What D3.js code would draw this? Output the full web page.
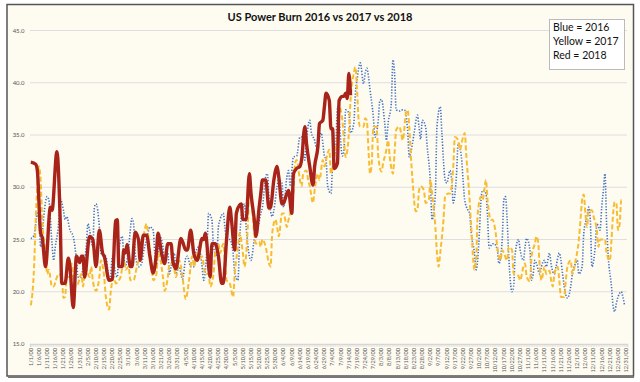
<!DOCTYPE html>
<html><head><meta charset="utf-8">
<script src="https://cdn.jsdelivr.net/npm/d3@7"></script>
<style>body{margin:0;background:#fff;}svg{display:block;}</style>
</head><body>
<svg id="c" width="640" height="382"></svg>
<script>
// ---- data (day of year index, value) ----
const yTicks = [15, 20, 25, 30, 35, 40, 45];
const seriesNames = ["2016", "2017", "2018"];
const legendLines = ["Blue = 2016", "Yellow = 2017", "Red = 2018"];
const title = "US Power Burn 2016 vs 2017 vs 2018";

const blue2016 = [[0,25.1],[2,25.4],[4,27.5],[5,26.9],[6,24.3],[7,25.5],[8,27.3],[10,29.1],[11,28.8],[13,24.6],[14,23.0],[15,24.3],[17,26.5],[18,28.9],[20,27.8],[21,26.9],[22,27.2],[24,25.9],[26,25.3],[28,23.0],[29,21.4],[31,21.4],[32,22.4],[34,24.3],[35,26.5],[36,25.9],[38,24.3],[39,28.1],[40,28.4],[42,26.2],[43,23.7],[45,23.4],[46,23.4],[48,21.1],[49,21.7],[50,23.4],[52,21.7],[53,21.4],[54,24.0],[56,25.3],[57,23.4],[58,22.4],[60,24.3],[62,27.0],[63,26.5],[64,23.7],[66,22.4],[68,22.7],[69,23.7],[71,25.0],[73,26.2],[75,25.9],[76,23.7],[77,22.4],[79,25.3],[81,24.3],[82,23.0],[84,23.7],[85,21.7],[86,22.4],[88,23.7],[89,21.7],[91,22.4],[93,21.2],[95,23.2],[96,23.4],[98,22.4],[100,22.4],[101,23.7],[103,24.3],[105,22.4],[106,21.1],[108,24.3],[109,27.5],[111,26.9],[112,24.3],[114,23.4],[115,26.2],[116,26.9],[118,27.5],[119,26.2],[120,25.0],[122,25.0],[124,23.7],[125,21.8],[127,21.1],[128,25.0],[130,28.1],[131,28.4],[132,26.2],[134,23.4],[135,23.0],[137,25.0],[139,25.9],[141,27.5],[142,28.1],[144,31.0],[145,31.3],[146,29.1],[148,27.2],[149,27.8],[151,30.1],[152,30.7],[154,30.4],[155,28.1],[157,31.0],[158,31.6],[159,30.1],[161,32.9],[163,33.0],[165,34.8],[166,34.8],[168,32.6],[169,34.5],[171,36.4],[172,35.2],[174,34.5],[175,33.9],[177,34.8],[178,35.2],[180,33.0],[181,32.6],[182,30.1],[184,29.4],[185,32.0],[187,33.9],[188,37.7],[189,36.4],[191,33.0],[192,33.6],[193,37.4],[195,37.1],[196,35.2],[198,36.1],[199,39.0],[200,40.3],[202,41.9],[204,39.9],[205,40.9],[206,41.4],[207,40.6],[208,39.3],[210,36.7],[211,34.8],[213,36.4],[214,38.3],[215,38.4],[217,36.1],[218,34.5],[219,36.1],[221,38.0],[222,42.2],[223,40.9],[224,37.4],[226,37.3],[227,37.4],[229,37.4],[231,35.5],[232,32.9],[234,34.2],[235,35.2],[237,36.9],[238,35.8],[239,34.6],[240,36.4],[242,35.8],[243,33.9],[245,30.4],[246,26.9],[248,29.4],[249,35.8],[251,37.7],[252,35.2],[254,30.7],[255,30.4],[257,31.6],[258,30.7],[259,28.5],[261,31.3],[262,34.2],[264,32.9],[265,30.7],[266,28.8],[268,27.8],[269,27.5],[270,25.6],[272,23.7],[273,22.1],[275,25.6],[276,28.8],[277,29.7],[279,29.4],[280,27.2],[281,24.2],[283,24.6],[284,24.6],[286,24.0],[287,22.7],[289,25.0],[290,28.8],[291,29.1],[292,26.9],[293,23.4],[295,20.0],[296,20.5],[297,23.7],[299,25.0],[300,24.0],[302,23.0],[303,24.3],[304,25.1],[306,24.0],[307,21.1],[308,21.7],[309,23.0],[310,22.7],[312,21.7],[313,22.4],[315,23.0],[316,22.4],[318,23.7],[319,22.6],[321,21.7],[322,22.4],[324,23.7],[325,23.0],[326,21.7],[328,19.7],[329,19.4],[331,20.5],[332,21.7],[334,22.7],[335,23.0],[336,21.7],[338,22.4],[339,25.6],[341,27.2],[342,28.1],[343,26.9],[344,22.4],[346,24.3],[347,26.5],[349,25.9],[350,28.1],[351,29.7],[352,31.3],[353,26.5],[354,23.4],[356,20.5],[357,18.6],[358,18.1],[359,18.9],[360,19.5],[362,20.0],[363,19.5],[364,18.7]];

const yellow2017 = [[0,18.7],[2,22.4],[3,26.9],[4,30.1],[5,32.0],[6,30.7],[7,26.9],[9,23.7],[10,21.7],[11,22.1],[13,20.5],[14,20.5],[16,21.4],[17,21.7],[19,21.4],[20,19.4],[21,19.5],[22,21.4],[24,21.4],[25,22.7],[26,21.4],[28,20.5],[29,20.8],[31,21.7],[32,20.5],[33,21.7],[34,22.1],[36,21.4],[37,22.4],[38,21.1],[40,20.1],[42,21.4],[43,23.0],[45,21.4],[46,19.5],[48,18.3],[49,20.0],[51,21.4],[52,20.8],[54,21.1],[55,21.4],[57,23.0],[58,22.1],[60,22.4],[61,21.1],[63,21.1],[65,22.4],[66,23.0],[67,24.3],[69,25.3],[71,26.5],[72,25.3],[74,22.7],[75,21.1],[77,21.7],[78,23.7],[79,23.4],[81,21.4],[82,20.1],[84,21.4],[85,22.7],[86,22.7],[88,22.1],[89,21.4],[91,23.0],[92,22.5],[93,21.4],[95,19.3],[97,21.1],[99,23.4],[100,22.4],[102,23.7],[103,23.0],[105,23.4],[107,21.7],[109,21.7],[110,20.5],[112,21.7],[113,23.7],[115,24.6],[116,23.7],[118,24.6],[119,23.0],[120,21.1],[122,20.8],[124,19.5],[125,21.7],[127,24.3],[128,25.6],[130,23.7],[131,22.4],[133,26.2],[134,30.1],[135,29.1],[137,25.6],[138,24.6],[140,24.8],[141,24.3],[142,25.0],[144,24.3],[146,22.7],[147,22.4],[148,25.6],[150,26.9],[151,26.2],[152,25.3],[154,27.5],[155,27.5],[157,26.2],[158,26.9],[159,27.5],[161,29.4],[162,32.3],[163,32.6],[165,30.7],[166,30.1],[167,31.3],[169,31.6],[170,30.7],[171,30.1],[173,28.5],[174,29.7],[176,31.3],[177,30.7],[179,32.6],[180,32.0],[182,33.3],[183,33.6],[184,31.3],[186,32.9],[188,34.8],[189,37.7],[191,36.4],[192,34.5],[193,32.9],[195,35.2],[196,38.3],[198,40.9],[199,41.5],[200,39.3],[201,36.4],[202,35.8],[204,35.8],[205,36.6],[206,36.4],[207,33.6],[208,31.3],[209,32.3],[210,35.8],[212,35.8],[213,33.0],[215,31.5],[216,32.3],[218,33.6],[219,34.5],[220,33.0],[222,31.3],[223,33.3],[224,35.5],[226,35.8],[227,35.2],[228,34.5],[230,37.1],[231,37.4],[232,35.8],[233,33.0],[234,30.7],[236,27.7],[237,27.8],[238,29.7],[239,30.1],[241,29.7],[242,28.5],[244,28.8],[245,30.7],[246,29.4],[248,26.2],[249,23.7],[250,22.4],[251,23.7],[253,26.9],[254,29.1],[256,29.4],[257,29.4],[259,32.0],[260,34.8],[262,34.5],[263,33.6],[265,34.8],[266,35.2],[267,33.0],[269,28.8],[270,26.2],[272,22.1],[273,23.0],[274,27.5],[276,29.1],[277,28.8],[278,29.7],[279,30.7],[280,28.8],[282,26.9],[283,26.9],[285,25.6],[286,24.3],[288,23.0],[289,24.0],[290,23.7],[292,23.0],[293,24.3],[295,24.0],[296,21.7],[298,21.6],[299,21.5],[300,21.1],[302,22.4],[303,22.7],[304,21.4],[306,21.0],[307,23.4],[309,24.6],[310,25.3],[311,24.8],[312,22.4],[313,21.1],[315,22.4],[316,21.7],[318,22.0],[319,21.1],[320,20.5],[321,21.7],[323,22.4],[324,21.1],[325,19.5],[327,19.5],[328,21.1],[329,22.4],[331,23.0],[332,21.7],[334,23.0],[336,25.0],[337,26.9],[338,28.8],[339,29.3],[340,27.5],[341,26.2],[342,27.8],[344,27.8],[345,27.2],[347,25.9],[348,24.3],[349,25.0],[351,25.0],[352,25.0],[353,23.7],[355,23.0],[356,25.0],[357,27.5],[358,28.6],[359,28.4],[360,25.9],[361,26.5],[362,28.8],[363,28.8]];

const red2018 = [[0,32.4],[3,32.2],[4,31.6],[6,25.6],[7,25.2],[9,22.4],[12,28.1],[13,27.8],[16,33.4],[18,26.9],[19,20.8],[21,20.8],[23,23.2],[24,22.4],[26,18.5],[28,23.4],[30,22.8],[31,23.4],[32,23.4],[33,21.4],[36,25.3],[38,25.0],[40,22.4],[42,25.9],[44,23.7],[45,23.4],[48,21.1],[50,21.2],[52,26.8],[53,26.9],[54,22.4],[56,22.4],[57,24.0],[58,23.7],[59,24.5],[61,22.4],[62,22.4],[64,25.7],[66,25.0],[67,23.0],[69,25.4],[71,25.4],[73,23.4],[75,21.8],[77,23.7],[78,25.6],[80,23.8],[82,22.7],[84,24.6],[86,24.6],[87,23.0],[89,22.2],[92,25.1],[93,24.8],[95,24.0],[96,24.0],[98,25.9],[100,23.6],[102,23.0],[105,25.1],[106,25.0],[107,25.6],[110,21.4],[111,24.6],[113,24.6],[115,23.4],[117,20.8],[118,20.8],[120,25.0],[122,28.1],[123,26.9],[125,24.0],[126,27.5],[128,28.3],[129,28.4],[130,26.9],[132,26.9],[134,31.3],[135,29.4],[137,26.9],[138,25.3],[140,28.1],[141,29.4],[142,30.7],[144,30.7],[146,28.0],[147,28.1],[149,30.7],[151,32.0],[152,31.0],[154,28.4],[155,28.5],[157,29.4],[158,29.7],[160,27.5],[161,31.3],[163,31.8],[165,32.0],[166,32.6],[168,35.8],[169,34.2],[171,32.0],[173,30.2],[174,32.0],[176,33.9],[177,36.1],[179,36.4],[180,37.7],[181,39.0],[183,38.3],[184,35.6],[185,35.6],[186,31.8],[188,32.3],[189,38.3],[191,38.7],[192,38.7],[193,39.0],[194,38.5],[195,40.9],[196,38.8]];

// categories: every day of the (leap) axis year 2000, labelled every 5th day
const categories = d3.timeDay.range(new Date(2000,0,1), new Date(2001,0,1));
const fmt = d3.timeFormat("%-m/%-d/00");
const labelEvery = 5;

// ---- drawing ----
const svg = d3.select("#c");
const font = "Lato, 'Open Sans', sans-serif";

svg.append("rect").attr("x",7).attr("y",4.5).attr("width",626.5).attr("height",371.5)
  .attr("fill","#fefbf1").attr("stroke","#555").attr("stroke-width",1.5);
svg.append("line").attr("x1",8).attr("x2",634).attr("y1",377).attr("y2",377).attr("stroke","#777").attr("stroke-width",2);

const x = d3.scaleLinear().domain([-0.5, categories.length - 0.5]).range([30, 627]);
const y = d3.scaleLinear().domain([15, 45]).range([344, 30.5]);

// gridlines
svg.append("g").selectAll("line").data(yTicks.filter(v => v > 15)).join("line")
  .attr("x1",30).attr("x2",627).attr("y1",d=>y(d)).attr("y2",d=>y(d))
  .attr("stroke","#dedede").attr("stroke-width",1);

// y axis labels
svg.append("g").selectAll("text").data(yTicks).join("text")
  .attr("x",24.5).attr("y",d=>y(d)+2).attr("text-anchor","end")
  .attr("font-family",font).attr("font-size",6).attr("fill","#555")
  .text(d=>d3.format(".1f")(d));

// x axis with category ticks
const xAxis = d3.axisBottom(x)
  .tickValues(d3.range(0, categories.length + 1).map(i => i - 0.5))
  .tickSize(3).tickFormat("");
const gx = svg.append("g").attr("transform","translate(0,344)").call(xAxis);
gx.select(".domain").attr("stroke","#d4d4d4").attr("stroke-width",1.5);
gx.selectAll(".tick line").attr("stroke","#dcdcdc").attr("stroke-width",0.6);

svg.append("g").selectAll("text")
  .data(categories.map((d,i)=>({d,i})).filter(o => o.i % labelEvery === 0))
  .join("text")
  .attr("transform", o => `translate(${x(o.i)+1.8},348) rotate(-90)`)
  .attr("text-anchor","end")
  .attr("font-family",font).attr("font-size",5.6).attr("fill","#555")
  .text(o => fmt(o.d));

const line = d3.line().x(d=>x(d[0])).y(d=>y(d[1])).curve(d3.curveMonotoneX);

svg.append("path").datum(blue2016).attr("d",line).attr("fill","none")
  .attr("stroke","#4472c4").attr("stroke-width",1.6).attr("stroke-dasharray","1.3,1.6");
svg.append("path").datum(yellow2017).attr("d",line).attr("fill","none")
  .attr("stroke","#f8bc33").attr("stroke-width",2).attr("stroke-dasharray","5,2.5");
svg.append("path").datum(red2018).attr("d",line).attr("fill","none")
  .attr("stroke","#a8231a").attr("stroke-width",3.4).attr("stroke-linejoin","round");

// title
svg.append("text").attr("x",320).attr("y",21).attr("text-anchor","middle")
  .attr("font-family",font).attr("font-size",11).attr("font-weight","bold").attr("fill","#111")
  .text(title);

// legend box
svg.append("rect").attr("x",549.5).attr("y",19.5).attr("width",75).attr("height",50)
  .attr("fill","#fff").attr("stroke","#bbb").attr("stroke-width",1);
svg.append("g").selectAll("text").data(legendLines).join("text")
  .attr("x",553).attr("y",(d,i)=>31+i*14.2)
  .attr("font-family",font).attr("font-size",10.5).attr("fill","#111")
  .text(d=>d);
</script>
</body></html>
